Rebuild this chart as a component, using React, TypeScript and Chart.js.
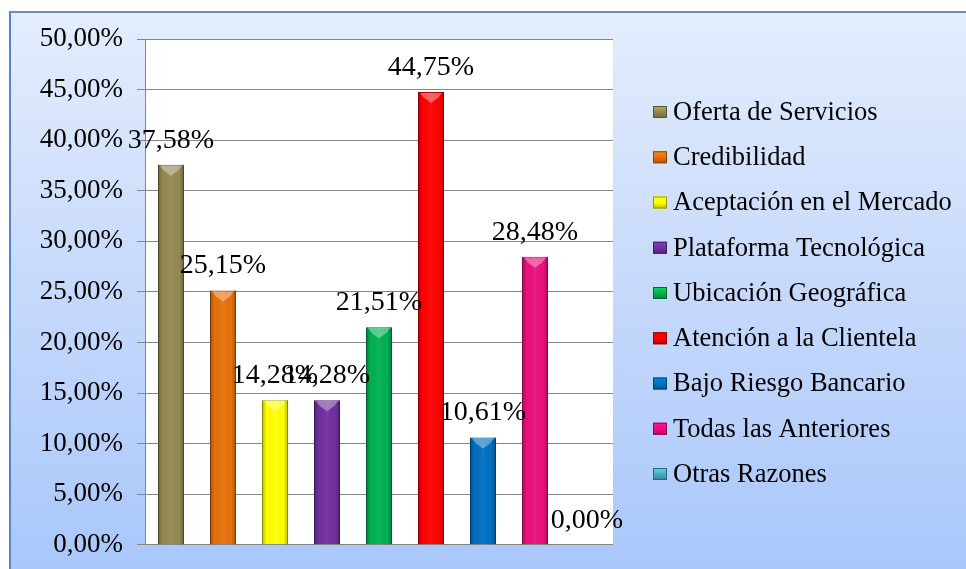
import React, { useEffect, useRef } from "react";
import { Chart, registerables } from "chart.js";

Chart.register(...registerables);

const categories = [
  "Oferta de Servicios",
  "Credibilidad",
  "Aceptación en el Mercado",
  "Plataforma Tecnológica",
  "Ubicación Geográfica",
  "Atención a la Clientela",
  "Bajo Riesgo Bancario",
  "Todas las Anteriores",
  "Otras Razones",
];
const values = [37.58, 25.15, 14.28, 14.28, 21.51, 44.75, 10.61, 28.48, 0.0];
const barColors = [
  "#948a54",
  "#e8700c",
  "#ffff00",
  "#7030a0",
  "#00b050",
  "#ff0000",
  "#0070c0",
  "#ea0f7c",
  "#4bacc6",
];
const yMax = 50;
const yStep = 5;

const FONT = "'Liberation Serif', 'Times New Roman', serif";

function fmt(v: number) {
  return v.toFixed(2).replace(".", ",") + "%";
}

function shade(hex: string, f: number) {
  const n = parseInt(hex.slice(1), 16);
  let r = (n >> 16) & 255, g = (n >> 8) & 255, b = n & 255;
  r = Math.round(r * f); g = Math.round(g * f); b = Math.round(b * f);
  return `rgb(${Math.min(255, r)},${Math.min(255, g)},${Math.min(255, b)})`;
}

const plotBg = {
  id: "plotBg",
  beforeDraw(chart: any) {
    const { ctx, chartArea } = chart;
    ctx.save();
    ctx.fillStyle = "#ffffff";
    ctx.fillRect(chartArea.left, chartArea.top, chartArea.right - chartArea.left, chartArea.bottom - chartArea.top);
    ctx.restore();
  },
};

const barDeco = {
  id: "barDeco",
  afterDatasetsDraw(chart: any) {
    const { ctx } = chart;
    const meta = chart.getDatasetMeta(0);
    ctx.save();
    meta.data.forEach((el: any, i: number) => {
      const half = el.width / 2;
      const top = el.y;
      const h = el.base - el.y;
      if (h > 6 && isFinite(el.x) && isFinite(half)) {
        const g = ctx.createLinearGradient(el.x - half, 0, el.x + half, 0);
        g.addColorStop(0, "rgba(0,0,0,0.28)");
        g.addColorStop(0.18, "rgba(0,0,0,0)");
        g.addColorStop(0.5, "rgba(255,255,255,0.06)");
        g.addColorStop(0.82, "rgba(0,0,0,0)");
        g.addColorStop(1, "rgba(0,0,0,0.28)");
        ctx.fillStyle = g;
        ctx.fillRect(el.x - half, top, el.width, h);
        ctx.fillStyle = "rgba(255,255,255,0.35)";
        ctx.beginPath();
        ctx.moveTo(el.x - half + 2, top + 1);
        ctx.lineTo(el.x + half - 2, top + 1);
        ctx.lineTo(el.x + half - 6, top + 6);
        ctx.lineTo(el.x, top + 11);
        ctx.lineTo(el.x - half + 6, top + 6);
        ctx.closePath();
        ctx.fill();
      }
      ctx.fillStyle = "#000000";
      ctx.font = `28px ${FONT}`;
      ctx.textAlign = "center";
      ctx.textBaseline = "alphabetic";
      ctx.fillText(fmt(values[i]), el.x, el.y - 17);
    });
    ctx.restore();
  },
};

const legendPlugin = {
  id: "customLegend",
  afterDraw(chart: any) {
    const { ctx } = chart;
    ctx.save();
    categories.forEach((name, i) => {
      const cy = 112 + i * 45.25;
      const c = barColors[i];
      const g = ctx.createLinearGradient(653, cy - 6, 653, cy + 6);
      g.addColorStop(0, shade(c, 1.25));
      g.addColorStop(0.5, c);
      g.addColorStop(1, shade(c, 0.75));
      ctx.fillStyle = g;
      ctx.fillRect(653, cy - 6, 14, 12);
      ctx.strokeStyle = shade(c, 0.6);
      ctx.lineWidth = 1;
      ctx.strokeRect(653.5, cy - 5.5, 13, 11);
      ctx.fillStyle = "#000000";
      ctx.font = `26.5px ${FONT}`;
      ctx.textAlign = "left";
      ctx.textBaseline = "middle";
      ctx.fillText(name, 673, cy + 1);
    });
    ctx.restore();
  },
};

export default function App() {
  const ref = useRef<HTMLCanvasElement | null>(null);

  useEffect(() => {
    if (!ref.current) return;
    const chart = new Chart(ref.current, {
      type: "bar",
      data: {
        labels: categories,
        datasets: [
          {
            data: values,
            backgroundColor: barColors,
            borderColor: barColors.map((c) => shade(c, 0.7)),
            borderWidth: 1,
            barPercentage: 0.5,
            categoryPercentage: 1,
          },
        ],
      },
      options: {
        animation: false,
        responsive: true,
        maintainAspectRatio: false,
        layout: { padding: { left: 0, top: 39, right: 353, bottom: 25 } },
        plugins: {
          legend: { display: false },
          tooltip: { enabled: false },
        },
        scales: {
          x: { display: false },
          y: {
            min: 0,
            max: yMax,
            afterFit: (scale: any) => {
              scale.width = 145;
            },
            ticks: {
              stepSize: yStep,
              color: "#000000",
              padding: 14,
              font: { family: FONT, size: 27 },
              callback: (v: any) => fmt(Number(v)),
            },
            grid: {
              color: "#868686",
              lineWidth: 1,
              tickLength: 8,
              drawTicks: true,
            },
            border: { color: "#868686", width: 1 },
          },
        },
      },
      plugins: [plotBg, barDeco, legendPlugin],
    });
    return () => chart.destroy();
  }, []);

  return (
    <div style={{ position: "absolute", left: 0, top: 0, width: 966, height: 569, background: "#ffffff", overflow: "hidden" }}>
      <div
        style={{
          position: "absolute",
          left: 9,
          top: 11,
          right: 0,
          bottom: 0,
          borderLeft: "2px solid #5585c5",
          borderTop: "2px solid #6b8cb5",
          background: "linear-gradient(#e3edfd, #c9dbfb 45%, #a9c7fb)",
        }}
      />
      <div style={{ position: "absolute", left: 0, top: 0, width: 966, height: 575 }}>
        <canvas ref={ref} />
      </div>
    </div>
  );
}
